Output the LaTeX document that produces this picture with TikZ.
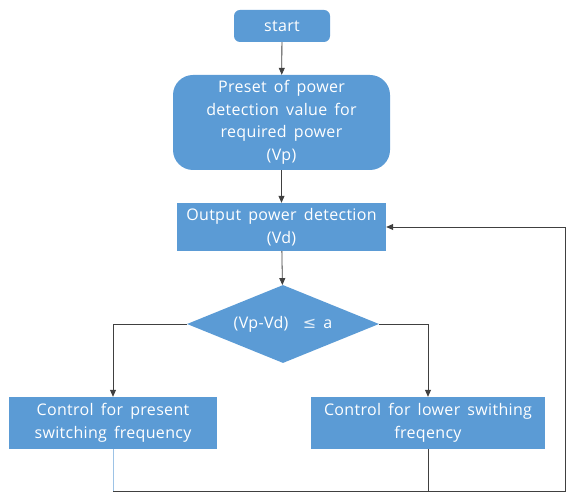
\documentclass[tikz,border=0pt]{standalone}
\usepackage{fontspec}
\setmainfont[LetterSpace=2,WordSpace=1.6]{Open Sans}
\newfontfamily\symfont{DejaVu Sans}
\usetikzlibrary{shapes.geometric,arrows.meta}
\definecolor{boxblue}{HTML}{5B9BD5}
\definecolor{lineblue}{HTML}{9DC3E6}
\begin{document}
\begin{tikzpicture}[x=1pt,y=-1pt,
  box/.style={fill=boxblue, text=white, align=center, inner sep=0pt,
    font=\fontsize{16}{22.5}\selectfont},
  conn/.style={draw=black!75, line width=0.8pt},
  arr/.style={conn,-{Triangle[length=7pt,width=6pt]}}]
\useasboundingbox (0,0) rectangle (568,494);
\node[box, rounded corners=6pt, minimum width=96pt, minimum height=32pt] (start) at (282,26) {start};
\node[box, rounded corners=20pt, minimum width=217pt, minimum height=95pt] (preset) at (281.5,122.5)
  {Preset of power\\detection value for\\required power\\(Vp)};
\node[box, minimum width=209pt, minimum height=48pt] (output) at (281.5,227)
  {Output power detection\\(Vd)};
\node[box, diamond, aspect=2.46, minimum width=192pt, minimum height=78pt] (dec) at (283,324)
  {(Vp-Vd)\ \ {\symfont\color{white!80!boxblue}≤} a};
\node[box, minimum width=208pt, minimum height=52pt] (left) at (113,423)
  {Control for present\\switching frequency};
\node[box, minimum width=234pt, minimum height=52pt] (right) at (428,423)
  {Control for lower swithing\\freqency};
\coordinate (fb) at (565,491);
\draw[arr] (start) -- (preset);
\draw[arr] (preset) -- (output);
\draw[arr] (output) -- (dec);
\draw[arr] (dec.west) -| (left.north);
\draw[arr] (dec.east) -| (right.north);
\draw[conn] (right.south) -- (right.south |- fb);
\draw[line width=0.8pt, draw=lineblue] (left.south) -- (left.south |- fb);
\draw[arr] (left.south |- fb) -- (fb) |- (output.east);
\end{tikzpicture}
\end{document}
